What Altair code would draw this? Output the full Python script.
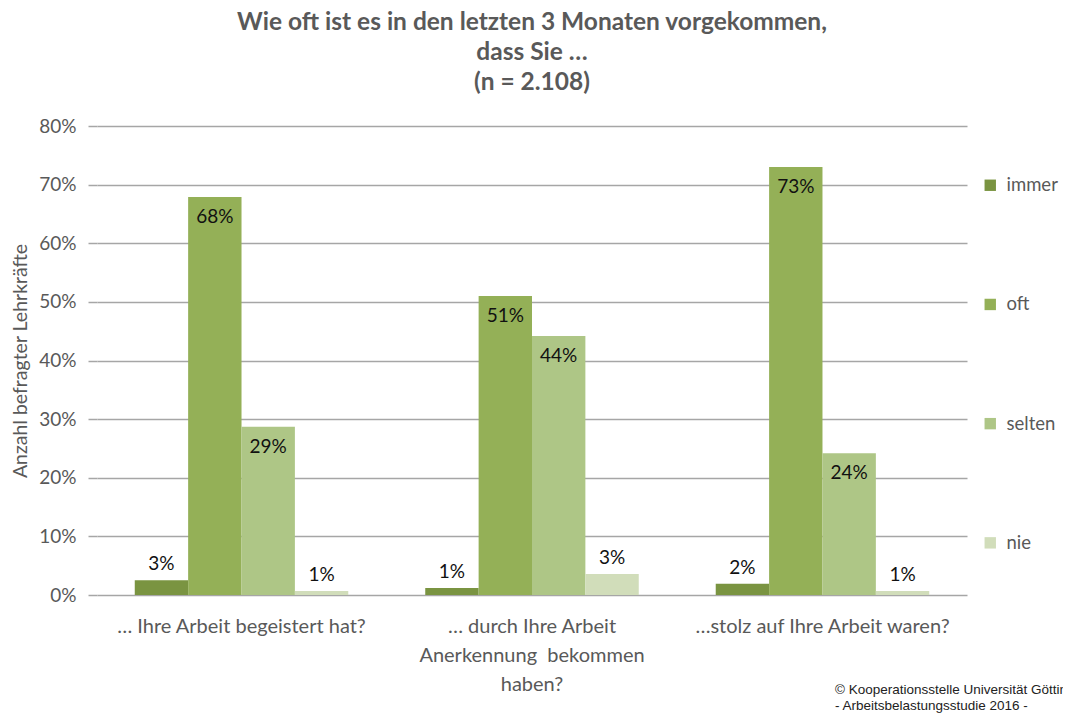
import altair as alt
import pandas as pd

questions = [
    "… Ihre Arbeit begeistert hat?",
    "… durch Ihre Arbeit\nAnerkennung\u00a0 bekommen\nhaben?",
    "…stolz auf Ihre Arbeit waren?",
]
categories = ["immer", "oft", "selten", "nie"]
colors = ["#7A9441", "#94B057", "#AEC686", "#D1DDBA"]

immer = [2.5, 1.2, 1.9]
oft = [67.9, 51.0, 73.0]
selten = [28.7, 44.2, 24.2]
nie = [0.7, 3.6, 0.7]

immer_lbl = ["3%", "1%", "2%"]
oft_lbl = ["68%", "51%", "73%"]
selten_lbl = ["29%", "44%", "24%"]
nie_lbl = ["1%", "3%", "1%"]

rows = []
for cat, vals, lbls in zip(categories, [immer, oft, selten, nie],
                           [immer_lbl, oft_lbl, selten_lbl, nie_lbl]):
    for q, v, l in zip(questions, vals, lbls):
        rows.append({"frage": q, "kategorie": cat, "wert": v / 100, "label": l})
df = pd.DataFrame(rows)

FONT = "Lato"
GREY = "#595959"

x = alt.X("frage:N", sort=questions, title=None,
          scale=alt.Scale(paddingInner=0.265, paddingOuter=0.13),
          axis=alt.Axis(labelExpr="split(datum.label, '\\n')", labelAngle=0,
                        labelFontSize=20, labelColor=GREY, labelFont=FONT,
                        labelLineHeight=29, labelPadding=21, ticks=False,
                        domain=False, labelBaseline="top", labelLimit=400))
xo = alt.XOffset("kategorie:N", sort=categories,
                 scale=alt.Scale(paddingInner=0, paddingOuter=0))
y = alt.Y("wert:Q", title="Anzahl befragter Lehrkräfte",
          scale=alt.Scale(domain=[0, 0.8], nice=False),
          axis=alt.Axis(format=".0%", values=[i / 10 for i in range(9)],
                        labelFontSize=19, labelColor=GREY, labelFont=FONT,
                        titleFontSize=19.5, titleColor=GREY, titleFont=FONT,
                        titleFontWeight="normal", titlePadding=8,
                        tickSize=9, tickColor="#A6A6A6", tickWidth=1.5,
                        labelPadding=12, grid=True, gridColor="#A6A6A6",
                        gridWidth=1.5, domain=False))

base = alt.Chart(df)

bars = base.mark_bar().encode(
    x=x, xOffset=xo, y=y,
    color=alt.Color("kategorie:N", sort=categories,
                    scale=alt.Scale(domain=categories, range=colors),
                    legend=alt.Legend(title=None, orient="none", legendX=884,
                                      legendY=50, symbolType="square",
                                      symbolSize=130, symbolStrokeWidth=0,
                                      labelFontSize=18.5, labelColor=GREY,
                                      labelFont=FONT, rowPadding=100.2,
                                      labelOffset=7, padding=0,
                                      labelLimit=200)),
)

inside = base.transform_filter("datum.wert > 0.1").mark_text(
    baseline="top", dy=11, fontSize=19, font=FONT, color="#111111"
).encode(x=x, xOffset=xo, y=y, text="label:N")

above = base.transform_filter("datum.wert <= 0.1").mark_text(
    baseline="bottom", dy=-6, fontSize=19, font=FONT, color="#111111"
).encode(x=x, xOffset=xo, y=y, text="label:N")

footer = alt.Chart(pd.DataFrame({"t": [["© Kooperationsstelle Universität Göttingen",
                                        " - Arbeitsbelastungsstudie 2016 -"]]})).mark_text(
    align="left", baseline="top", fontSize=13.5, font="Liberation Sans",
    color="#222222", lineHeight=16
).encode(x=alt.value(738), y=alt.value(557), text="t")

chart = alt.layer(bars, inside, above, footer).properties(
    width=870, height=469,
    autosize=alt.AutoSizeParams(type="none"),
    padding={"left": 89, "top": 118, "right": 96, "bottom": 118},
    title=alt.TitleParams(
        text=["Wie oft ist es in den letzten 3 Monaten vorgekommen,",
              "dass Sie …", "(n = 2.108)"],
        fontSize=24.5, font=FONT, fontWeight="bold", color=GREY,
        lineHeight=30, anchor="middle", offset=22),
).configure_view(stroke=None)

chart.save("out.html", embed_options={"renderer": "svg", "actions": False})
